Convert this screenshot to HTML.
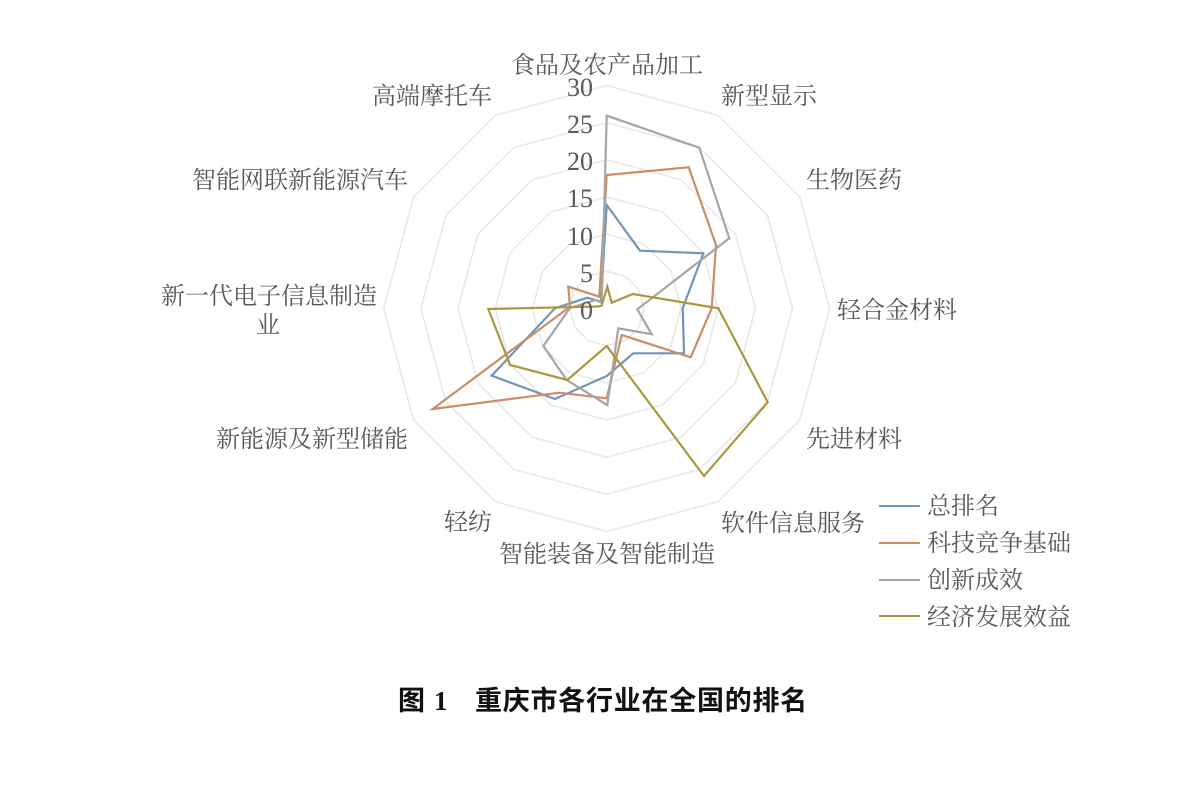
<!DOCTYPE html>
<html lang="zh">
<head>
<meta charset="utf-8">
<style>
html,body{margin:0;padding:0;background:#fff}
svg{display:block}
.l{font-family:"Liberation Serif","Noto Serif CJK SC",serif;font-size:24px;fill:#595959}
.n{font-family:"Liberation Serif",serif;font-size:26px;fill:#595959;text-anchor:end}
.c{font-family:"Liberation Sans","Noto Sans CJK SC",sans-serif;font-size:27px;font-weight:700;fill:#111;letter-spacing:.75px}
.s{fill:none;stroke-width:2.2;stroke-linejoin:miter}
.g{fill:none;stroke:#e9e9e9;stroke-width:1.7}
.b{filter:blur(.35px)}
</style>
</head>
<body>
<svg width="1189" height="793" viewBox="0 0 1189 793" xmlns="http://www.w3.org/2000/svg">
<rect width="1189" height="793" fill="#fff"/>
<g class="b">
<g class="g">
<polygon points="606.7,271.3 625.3,276.3 638.9,289.9 643.9,308.5 638.9,327.1 625.3,340.7 606.7,345.7 588.1,340.7 574.5,327.1 569.5,308.5 574.5,289.9 588.1,276.3"/>
<polygon points="606.7,234.2 643.9,244.2 671,271.3 681,308.5 671,345.7 643.9,372.8 606.7,382.8 569.5,372.8 542.4,345.7 532.4,308.5 542.4,271.3 569.5,244.2"/>
<polygon points="606.7,197 662.5,211.9 703.2,252.8 718.2,308.5 703.2,364.2 662.5,405.1 606.7,420 550.9,405.1 510.2,364.2 495.2,308.5 510.2,252.8 550.9,211.9"/>
<polygon points="606.7,159.8 681,179.7 735.5,234.2 755.4,308.5 735.5,382.8 681,437.3 606.7,457.2 532.4,437.3 477.9,382.8 458,308.5 477.9,234.2 532.4,179.7"/>
<polygon points="606.7,122.7 699.6,147.6 767.6,215.6 792.5,308.5 767.6,401.4 699.6,469.4 606.7,494.3 513.8,469.4 445.8,401.4 420.9,308.5 445.8,215.6 513.8,147.6"/>
<polygon points="606.7,85.5 718.2,115.4 799.8,197 829.7,308.5 799.8,420 718.2,501.6 606.7,531.5 495.2,501.6 413.6,420 383.7,308.5 413.6,197 495.2,115.4"/>
</g>
<polygon class="s" stroke="#6f96b8" points="606.7,205 640,250.7 703.3,253.3 682.7,308.3 684,353.3 633.3,353.3 606.7,376 555,399 491.7,375.7 555,308.3 587.3,297.7 601,301.7"/>
<polygon class="s" stroke="#cb8d66" points="606.7,175 688.7,167.3 716,245 711.7,308.3 690.7,357.3 621.7,335 606.7,398.3 559.3,392.7 432.7,409 570,306.7 568.3,286.7 599.3,296.7"/>
<polygon class="s" stroke="#a5a5a5" points="606.7,115.7 699.3,147.7 729.3,238.3 637.3,309.3 651.7,334.3 618.3,328.3 607.3,405 566.7,380 543.3,346 570,308 596,300 601.7,303"/>
<polygon class="s" stroke="#ab983c" points="607.3,286.7 611.7,302.7 632.7,294 718.3,308.3 767.7,402.3 704,476 606.7,346 567.3,380 510,365 488.3,309 598,306.5 601.7,305.7"/>
<g class="n">
<text x="593" y="96">30</text>
<text x="593" y="133">25</text>
<text x="593" y="170">20</text>
<text x="593" y="207">15</text>
<text x="593" y="245">10</text>
<text x="593" y="282">5</text>
<text x="593" y="319">0</text>
</g>
<g class="l">
<text x="511" y="73">食品及农产品加工</text>
<text x="721" y="104">新型显示</text>
<text x="806" y="188">生物医药</text>
<text x="837" y="318">轻合金材料</text>
<text x="806" y="447">先进材料</text>
<text x="721" y="531">软件信息服务</text>
<text x="499" y="562">智能装备及智能制造</text>
<text x="444" y="530">轻纺</text>
<text x="216" y="447">新能源及新型储能</text>
<text x="161" y="304">新一代电子信息制造</text>
<text x="256" y="333">业</text>
<text x="192" y="188">智能网联新能源汽车</text>
<text x="372" y="104">高端摩托车</text>
<text x="927" y="514">总排名</text>
<text x="927" y="551">科技竞争基础</text>
<text x="927" y="588">创新成效</text>
<text x="927" y="625">经济发展效益</text>
</g>
<line x1="879" y1="506" x2="920" y2="506" stroke="#6f96b8" stroke-width="2"/>
<line x1="879" y1="543" x2="920" y2="543" stroke="#cb8d66" stroke-width="2"/>
<line x1="879" y1="580" x2="920" y2="580" stroke="#a5a5a5" stroke-width="2"/>
<line x1="879" y1="616" x2="920" y2="616" stroke="#ab983c" stroke-width="2"/>
<text class="c" x="398" y="710">图</text>
<text x="434" y="710" font-family="Liberation Serif, serif" font-size="27" font-weight="700" fill="#111">1</text>
<text class="c" x="475" y="710">重庆市各行业在全国的排名</text>
</g>
</svg>
</body>
</html>
